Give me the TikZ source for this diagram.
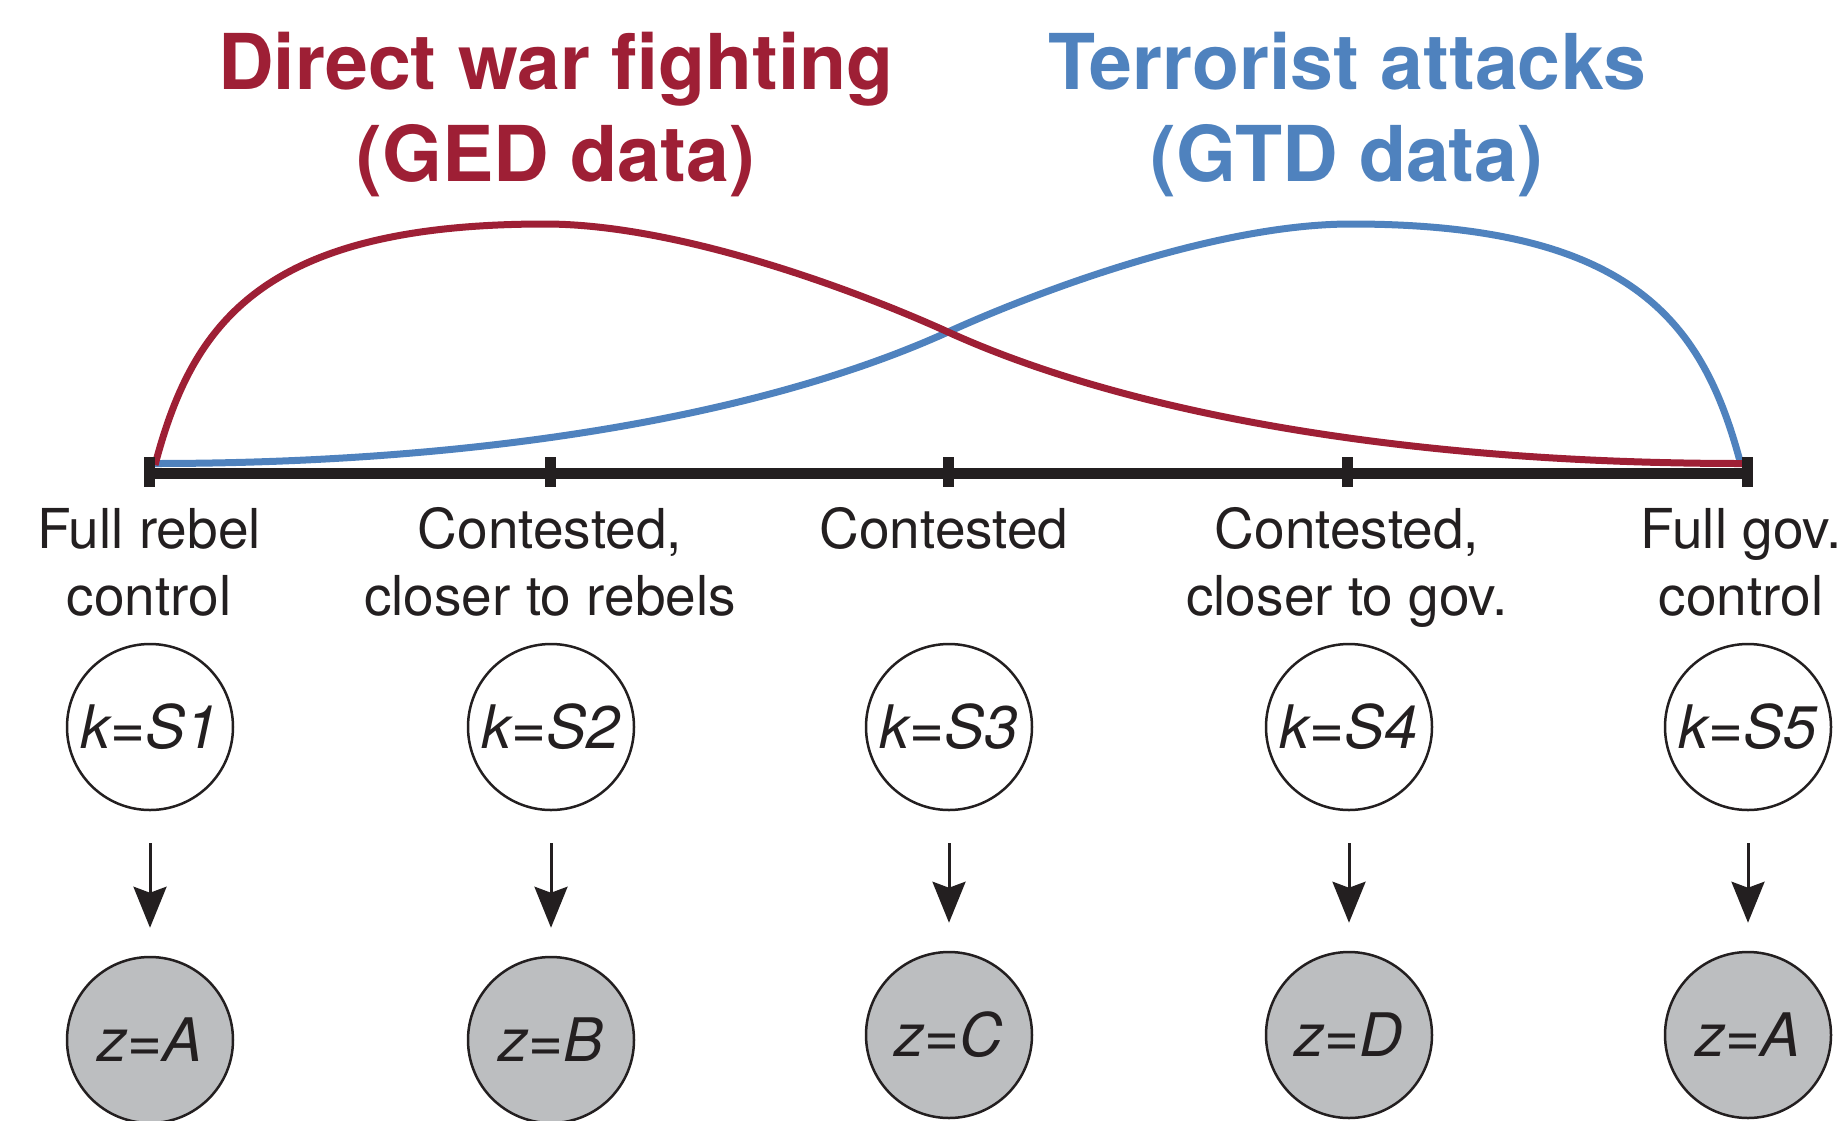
\documentclass[tikz,border=0pt]{standalone}
\usepackage{fontspec}
\setmainfont{TeX Gyre Heros}
\usetikzlibrary{arrows.meta}
\definecolor{warred}{RGB}{158,31,53}
\definecolor{terrblue}{RGB}{79,130,190}
\definecolor{nodegray}{RGB}{188,190,192}
\definecolor{inkblack}{RGB}{35,31,32}
\begin{document}
\begin{tikzpicture}[x=1pt,y=-1pt,
  state/.style={circle, draw=inkblack, line width=2.5pt, minimum size=166pt, inner sep=0pt, text=inkblack,
    font=\fontsize{60}{70}\selectfont\itshape},
  kstate/.style={state, fill=white},
  zstate/.style={state, fill=nodegray},
  lab/.style={inner sep=0pt, anchor=base, text=inkblack, font=\fontsize{55}{67}\selectfont},
  titlelab/.style={inner sep=0pt, anchor=base, font=\fontsize{77}{92}\selectfont\bfseries},
  arr/.style={-{Stealth[length=41pt,width=33pt,inset=6pt]}, line width=3pt, draw=inkblack},
  curve/.style={line width=7pt},
  axisline/.style={line width=11pt, draw=inkblack},
  tickmark/.style={fill=inkblack},
]
\useasboundingbox (0,0) rectangle (1845,1120);

% titles
\node[titlelab, text=warred] (t1) at (556,89)
  {\begin{tabular}[t]{@{}c@{}}Direct war fighting\\(GED data)\end{tabular}};
\node[titlelab, text=terrblue] (t2) at (1347,89)
  {\begin{tabular}[t]{@{}c@{}}Terrorist attacks\\(GTD data)\end{tabular}};

% curves
\draw[curve, terrblue] (154,463.5) .. controls (496,463.5) and (772,412) .. (948,332)
  .. controls (1036,292) and (1216,224) .. (1351,224)
  .. controls (1636,224) and (1704,325) .. (1741,465);
\draw[curve, warred] (155,465) .. controls (192,325) and (260,224) .. (545,224)
  .. controls (680,224) and (860,292) .. (948,332)
  .. controls (1124,412) and (1400,463.5) .. (1742,463.5);

% axis
\draw[axisline] (149.5,473) -- (1747,473);
\foreach \tx in {149.5,550,948,1347,1747}{
  \fill[tickmark] (\tx-5.5,457) rectangle (\tx+5.5,487);
}

% labels
\node[lab] (l1) at (149,548) {\begin{tabular}[t]{@{}c@{}}Full rebel\\control\end{tabular}};
\node[lab] (l2) at (550,548) {\begin{tabular}[t]{@{}c@{}}Contested,\\closer to rebels\end{tabular}};
\node[lab] (l3) at (944,548) {Contested};
\node[lab] (l4) at (1347,548) {\begin{tabular}[t]{@{}c@{}}Contested,\\closer to gov.\end{tabular}};
\node[lab] (l5) at (1741,548) {\begin{tabular}[t]{@{}c@{}}Full gov.\\control\end{tabular}};

% k nodes
\node[kstate] (k1) at (150,727) {k=S1};
\node[kstate] (k2) at (551,727) {k=S2};
\node[kstate] (k3) at (949,727) {k=S3};
\node[kstate] (k4) at (1349,727) {k=S4};
\node[kstate] (k5) at (1748,727) {k=S5};

% z nodes
\node[zstate] (z1) at (150,1040) {z=A};
\node[zstate] (z2) at (551,1040) {z=B};
\node[zstate] (z3) at (949,1035) {z=C};
\node[zstate] (z4) at (1349,1035) {z=D};
\node[zstate] (z5) at (1748,1035) {z=A};

% arrows
\foreach \i in {1,...,5}{
  \draw[arr] ([yshift=-32pt]k\i.south) -- ([yshift=28pt]z\i.north);
}
\end{tikzpicture}
\end{document}
